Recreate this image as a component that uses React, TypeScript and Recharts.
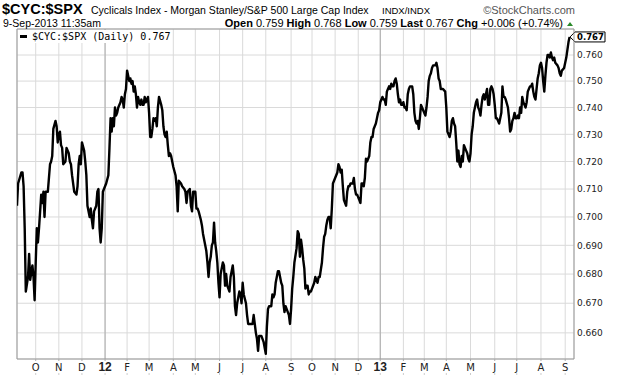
import React from "react";
import { LineChart, Line, XAxis, YAxis, CartesianGrid, ReferenceLine } from "recharts";

// trading session number, counted from 8-Sep-2011 (= 0)
const session = [
  0, 1, 4, 5, 6, 7, 8, 10, 11, 12,
  14, 15, 16, 17, 18, 19, 20, 22, 23, 24,
  25, 26, 28, 30, 31, 32, 33, 35, 36, 37,
  38, 39, 40, 41, 42, 44, 45, 47, 48, 49,
  50, 52, 54, 55, 56, 57, 58, 59, 61, 62,
  63, 64, 66, 67, 68, 69, 70, 72,
  73, 74, 75, 76, 77, 78, 81, 83, 84, 85,
  86, 87, 88, 89, 90, 91, 92, 94, 95, 96,
  97, 98, 99, 100, 101, 102, 103, 104, 105, 106,
  107, 108, 109, 110, 111, 112, 113, 114, 115, 116,
  117, 118, 119, 120, 121, 122, 123, 124, 125, 126,
  127, 128, 129, 131, 132, 133, 134, 135, 136, 137,
  138, 139, 140, 141, 142, 144, 145,
  146, 147, 149, 150, 152, 153, 154, 155, 157, 158,
  159, 160, 162, 163, 164, 165, 167, 168, 169, 171,
  172, 173, 174, 175, 176, 177, 178, 179, 180, 181,
  182, 183, 184, 185, 187, 188, 189, 190, 191, 193,
  194, 195, 196, 197, 198, 199, 200, 201, 202, 203,
  204, 205, 206, 208, 209, 210, 211, 212, 214, 215,
  216, 217,
  218, 219, 220, 222, 223, 224, 226, 227, 228, 229,
  231, 232, 233, 234, 235, 237, 238, 239, 240, 241,
  242, 243, 244, 245, 247, 248, 249, 250, 251, 252,
  254, 255, 256, 257, 258, 259, 260, 261, 262, 263,
  264, 265, 266, 267, 268, 270, 271, 272, 273, 274,
  275, 277, 278, 279, 280, 281, 282, 283, 284, 285,
  286, 287, 288, 289,
  291, 292, 293, 294, 295, 296, 297, 299, 300, 301,
  302, 303, 305, 306, 307, 308, 309, 311, 312, 313,
  314, 315, 316, 317, 318, 320, 321, 322, 323, 324,
  325, 326, 327, 328, 329, 330, 331, 332, 333, 334,
  335, 336, 337, 338, 339, 340, 341, 342, 343, 344,
  345, 346, 347, 348, 349, 350, 351, 352, 353, 354,
  355, 356, 357, 358, 359, 360, 361, 362,
  363, 364, 365, 366, 367, 368, 369, 371, 372, 373,
  374, 375, 376, 377, 378, 380, 381, 382, 383, 384,
  385, 386, 387, 389, 390, 391, 392, 393, 394, 395,
  396, 397, 398, 399, 400, 401, 402, 403, 404, 405,
  406, 407, 408, 409, 410, 411, 412, 413, 414, 415,
  416, 417, 418, 419, 420, 421, 422, 423, 424, 425,
  426, 427, 428, 429, 430, 431, 432, 433, 434, 435,
  436, 437, 438, 440, 441, 442, 443, 444, 446, 447,
  448, 449, 450, 451, 452, 453, 454, 455, 456, 457,
  458, 459, 460, 461, 462, 463, 464, 465, 466, 467,
  468, 469, 470, 471, 472, 473, 474, 475, 476, 477,
  478, 479, 480, 481, 482, 483, 484, 485, 486, 487,
  488, 489, 491, 492, 493, 494, 495, 497, 498, 499,
  500, 501, 502,
];

const ratio = [
  0.704, 0.712, 0.716, 0.716, 0.711, 0.696, 0.674, 0.679, 0.687, 0.678,
  0.683, 0.679, 0.671, 0.684, 0.696, 0.691, 0.696, 0.708, 0.705, 0.709,
  0.700, 0.709, 0.709, 0.719, 0.720, 0.722, 0.732, 0.735, 0.733, 0.727,
  0.730, 0.731, 0.726, 0.725, 0.719, 0.720, 0.725, 0.723, 0.720, 0.719,
  0.715, 0.709, 0.708, 0.711, 0.719, 0.722, 0.719, 0.727, 0.724, 0.720,
  0.715, 0.704, 0.700, 0.703, 0.699, 0.696, 0.702, 0.704,
  0.709, 0.710, 0.696, 0.691, 0.696, 0.709, 0.712, 0.715, 0.725, 0.736,
  0.731, 0.736, 0.733, 0.740, 0.737, 0.738, 0.740, 0.742, 0.744, 0.743,
  0.740, 0.745, 0.747, 0.754, 0.752, 0.750, 0.751, 0.749, 0.750, 0.746,
  0.748, 0.745, 0.740, 0.744, 0.742, 0.741, 0.743, 0.741, 0.741, 0.744,
  0.742, 0.743, 0.744, 0.738, 0.729, 0.729, 0.732, 0.736, 0.735, 0.736,
  0.733, 0.740, 0.744, 0.741, 0.739, 0.733, 0.730, 0.729, 0.731, 0.726,
  0.722, 0.723, 0.722, 0.720, 0.718, 0.715, 0.711,
  0.702, 0.713, 0.712, 0.711, 0.710, 0.709, 0.705, 0.709, 0.710, 0.704,
  0.702, 0.709, 0.709, 0.703, 0.703, 0.702, 0.699, 0.697, 0.694, 0.690,
  0.688, 0.684, 0.679, 0.684, 0.686, 0.690, 0.691, 0.698, 0.691, 0.688,
  0.684, 0.677, 0.672, 0.680, 0.684, 0.683, 0.676, 0.680, 0.676, 0.674,
  0.679, 0.681, 0.683, 0.679, 0.669, 0.666, 0.670, 0.672, 0.674, 0.673,
  0.670, 0.677, 0.673, 0.670, 0.666, 0.663, 0.663, 0.663, 0.663, 0.666,
  0.663, 0.660,
  0.658, 0.654, 0.659, 0.659, 0.658, 0.657, 0.653, 0.662, 0.668, 0.669,
  0.669, 0.673, 0.672, 0.673, 0.677, 0.681, 0.681, 0.679, 0.677, 0.676,
  0.670, 0.667, 0.669, 0.668, 0.666, 0.663, 0.668, 0.675, 0.679, 0.684,
  0.689, 0.695, 0.694, 0.686, 0.692, 0.689, 0.685, 0.682, 0.675, 0.676,
  0.676, 0.673, 0.674, 0.674, 0.675, 0.677, 0.679, 0.678, 0.677, 0.679,
  0.679, 0.684, 0.689, 0.693, 0.694, 0.697, 0.699, 0.700, 0.700, 0.696,
  0.703, 0.712, 0.713, 0.714,
  0.716, 0.719, 0.718, 0.716, 0.717, 0.711, 0.706, 0.704, 0.709, 0.711,
  0.711, 0.712, 0.712, 0.714, 0.710, 0.708, 0.708, 0.706, 0.705, 0.712,
  0.712, 0.711, 0.714, 0.721, 0.720, 0.722, 0.727, 0.729, 0.729, 0.732,
  0.733, 0.734, 0.736, 0.738, 0.739, 0.742, 0.743, 0.744, 0.743, 0.743,
  0.741, 0.746, 0.747, 0.748, 0.747, 0.749, 0.748, 0.748, 0.750, 0.751,
  0.749, 0.745, 0.742, 0.743, 0.741, 0.741, 0.742, 0.740, 0.740, 0.739,
  0.745, 0.747, 0.748, 0.748, 0.748, 0.745, 0.738, 0.735,
  0.734, 0.735, 0.732, 0.736, 0.741, 0.740, 0.739, 0.737, 0.740, 0.744,
  0.750, 0.752, 0.753, 0.755, 0.756, 0.756, 0.757, 0.755, 0.751, 0.750,
  0.747, 0.747, 0.747, 0.746, 0.740, 0.731, 0.730, 0.729, 0.731, 0.735,
  0.736, 0.734, 0.733, 0.727, 0.720, 0.724, 0.719, 0.718, 0.722, 0.720,
  0.726, 0.725, 0.724, 0.723, 0.721, 0.720, 0.723, 0.730, 0.733, 0.738,
  0.740, 0.742, 0.743, 0.740, 0.739, 0.737, 0.741, 0.744, 0.745, 0.743,
  0.745, 0.747, 0.741, 0.741, 0.747, 0.748, 0.747, 0.745, 0.741, 0.736,
  0.736, 0.735, 0.734, 0.738, 0.748, 0.744, 0.744, 0.743, 0.740, 0.736,
  0.731, 0.732, 0.735, 0.736, 0.738, 0.736, 0.736, 0.737, 0.736, 0.740,
  0.738, 0.744, 0.742, 0.741, 0.740, 0.742, 0.746, 0.747, 0.748, 0.748,
  0.749, 0.746, 0.744, 0.743, 0.747, 0.751, 0.753, 0.756, 0.757, 0.755,
  0.750, 0.746, 0.752, 0.757, 0.760, 0.760, 0.759, 0.761, 0.759, 0.758,
  0.759, 0.757, 0.756, 0.755, 0.753, 0.752, 0.754, 0.755, 0.757, 0.759,
  0.762, 0.765, 0.767,
];

// first session of each month, Oct 2011 .. Sep 2013
const monthStart = [17, 38, 59, 80, 100, 120, 142, 162, 184, 205, 226, 249, 268, 289, 310, 330, 351, 370, 390, 412, 434, 454, 476, 498];
const monthLabel = ["O", "N", "D", "12", "F", "M", "A", "M", "J", "J", "A", "S", "O", "N", "D", "13", "F", "M", "A", "M", "J", "J", "A", "S"];
const yearStart = [80, 330];
const ratioTicks = [0.66, 0.67, 0.68, 0.69, 0.7, 0.71, 0.72, 0.73, 0.74, 0.75, 0.76];
const lastValue = 0.767;

const data = session.map((s, i) => ({ s, v: ratio[i] }));

const SANS = '"DejaVu Sans", Verdana, sans-serif';
const ARIAL = '"Liberation Sans", Arial, sans-serif';
const MONO = '"DejaVu Sans Mono", monospace';
const Y_TOP = 0.7701;
const Y_BOTTOM = 0.6513;

function MonthTick(props: any) {
  const { x, y, payload } = props;
  const label = monthLabel[monthStart.indexOf(payload.value)] ?? "";
  const year = label.length > 1;
  return (
    <g>
      <line x1={x} x2={x} y1={y} y2={y + 2} stroke="#aaa" />
      <text
        x={x}
        y={y + 12}
        textAnchor="middle"
        fontFamily={year ? ARIAL : SANS}
        fontSize={year ? 12 : 10}
        fontWeight={year ? "bold" : "normal"}
        fill="#222"
      >
        {label}
      </text>
      <line x1={x} x2={x} y1={y + 14} y2={y + 16} stroke="#ccc" />
    </g>
  );
}

function LastTag(props: any) {
  const vb = props.viewBox || {};
  const x = vb.x + vb.width;
  const y = vb.y;
  const pts = `${x - 4},${y} ${x + 1},${y - 5} ${x + 31},${y - 5} ${x + 31},${y + 5} ${x + 1},${y + 5}`;
  return (
    <g>
      <polygon points={pts} fill="#fff" stroke="#000" strokeWidth={1} />
      <text x={x + 3} y={y} dy="0.36em" fontFamily={SANS} fontSize={8.5} fontWeight="bold" fill="#000">
        {lastValue.toFixed(3)}
      </text>
    </g>
  );
}

export default function App() {
  return (
    <div style={{ position: "relative", width: 620, height: 376, background: "#fff" }}>
      <style>{"body{margin:0}"}</style>
      <LineChart width={620} height={376} data={data} margin={{ top: 29, right: 0, bottom: 0, left: 17 }}>
        <CartesianGrid stroke="#dadada" />
        <XAxis
          dataKey="s"
          type="number"
          domain={[0, 506]}
          allowDataOverflow
          ticks={monthStart}
          interval={0}
          height={17}
          tickSize={0}
          tickMargin={0}
          tickLine={false}
          axisLine={{ stroke: "#999" }}
          tick={<MonthTick />}
        />
        <YAxis
          orientation="right"
          type="number"
          scale="log"
          domain={[Y_BOTTOM, Y_TOP]}
          allowDataOverflow
          ticks={ratioTicks}
          interval={0}
          width={46}
          tickLine={false}
          tickSize={0}
          tickMargin={3}
          axisLine={{ stroke: "#999" }}
          tick={{ fontFamily: SANS, fontSize: 9, fill: "#222" }}
          tickFormatter={(v: number) => v.toFixed(3)}
        />
        {yearStart.map((s) => (
          <ReferenceLine key={s} x={s} stroke="#aaa" />
        ))}
        <ReferenceLine x={0} stroke="#999" />
        <ReferenceLine y={Y_TOP} stroke="#999" />
        <Line
          dataKey="v"
          type="linear"
          stroke="#000"
          strokeWidth={2.4}
          strokeLinejoin="round"
          dot={false}
          isAnimationActive={false}
        />
        <ReferenceLine y={lastValue} stroke="none" label={<LastTag />} />
      </LineChart>
      <svg width={620} height={376} style={{ position: "absolute", left: 0, top: 0, pointerEvents: "none" }}>
        <text x={2} y={14} fontFamily={ARIAL} fontSize={14.5} fontWeight="bold" fill="#000">
          $CYC:$SPX
        </text>
        <text x={91} y={14} fontFamily={ARIAL} fontSize={10.5} fill="#000">
          Cyclicals Index - Morgan Stanley/S&amp;P 500 Large Cap Index
        </text>
        <text x={382} y={14} fontFamily={ARIAL} fontSize={9.5} fill="#000">
          INDX/INDX
        </text>
        <text x={575} y={14} textAnchor="end" fontFamily={ARIAL} fontSize={11} fill="#555">
          ©StockCharts.com
        </text>
        <text x={3} y={27} fontFamily={ARIAL} fontSize={10.5} fill="#000">
          9-Sep-2013 11:35am
        </text>
        <text x={563} y={27} textAnchor="end" fontFamily={ARIAL} fontSize={11} fill="#000">
          <tspan fontWeight="bold">Open</tspan> 0.759 <tspan fontWeight="bold">High</tspan> 0.768{" "}
          <tspan fontWeight="bold">Low</tspan> 0.759 <tspan fontWeight="bold">Last</tspan> 0.767{" "}
          <tspan fontWeight="bold">Chg</tspan> +0.006 (+0.74%)
        </text>
        <polygon points="567,26 573,26 570,22" fill="#2a8a2a" />
        <rect x={18} y={30} width={154} height={13} fill="#fff" />
        <line x1={20} x2={27} y1={36.5} y2={36.5} stroke="#000" strokeWidth={3} />
        <text x={32} y={40} fontFamily={MONO} fontSize={10} fill="#000">
          $CYC:$SPX (Daily) 0.767
        </text>
      </svg>
    </div>
  );
}
